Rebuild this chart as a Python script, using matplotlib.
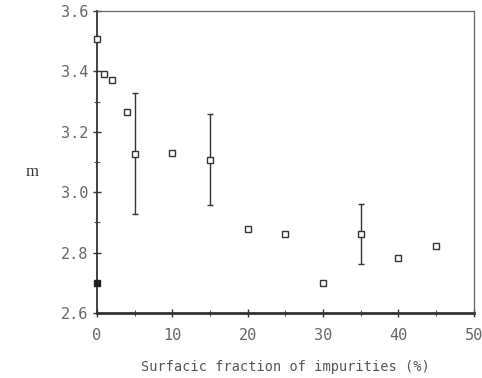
import matplotlib.pyplot as plt
import numpy as np

# open squares: surfacic fraction (%) vs m
frac = [0, 1, 2, 4, 5, 10, 15, 20, 25, 30, 35, 40, 45]
m_vals = [3.507, 3.39, 3.37, 3.266, 3.127, 3.13, 3.107, 2.878, 2.86, 2.70, 2.86, 2.782, 2.822]

# points with error bars
err_x = [5, 15, 35]
err_y = [3.127, 3.107, 2.86]
err_lo = [2.928, 2.957, 2.762]
err_hi = [3.328, 3.26, 2.962]

# filled reference point
ref_x = [0]
ref_y = [2.70]

fig = plt.figure(figsize=(4.82, 3.78), dpi=100)
ax = fig.add_axes([0.201, 0.172, 0.782, 0.799])

mono = 'DejaVu Sans Mono'
grey = '#666666'

lower = np.array(err_y) - np.array(err_lo)
upper = np.array(err_hi) - np.array(err_y)
ax.errorbar(err_x, err_y, yerr=[lower, upper], fmt='none', ecolor='#333333',
            elinewidth=1.0, capsize=2, capthick=1.0, clip_on=False)
ax.plot(frac, m_vals, 's', mfc='white', mec='#333333', mew=1.0, ms=5, clip_on=False, zorder=3)
ax.plot(ref_x, ref_y, 's', color='#222222', ms=5, clip_on=False, zorder=3)

ax.set_xlim(0, 50)
ax.set_ylim(2.6, 3.6)
ax.set_xticks([0, 10, 20, 30, 40, 50])
ax.set_xticks([5, 15, 25, 35, 45], minor=True)
ax.set_yticks([2.6, 2.8, 3.0, 3.2, 3.4, 3.6])
ax.set_yticks([2.7, 2.9, 3.1, 3.3, 3.5], minor=True)
ax.set_yticklabels(['2.6', '2.8', '3.0', '3.2', '3.4', '3.6'])

ax.tick_params(which='major', direction='inout', length=6, width=1.0, color='#333333',
               labelsize=11, labelcolor=grey, pad=3)
ax.tick_params(which='minor', direction='inout', length=4, width=0.8, color='#555555')
ax.tick_params(axis='x', pad=8)
for lab in ax.get_xticklabels() + ax.get_yticklabels():
    lab.set_family(mono)

for side in ['top', 'right']:
    ax.spines[side].set_linewidth(0.9)
    ax.spines[side].set_color('#666666')
ax.spines['left'].set_linewidth(1.3)
ax.spines['left'].set_color('#333333')
ax.spines['bottom'].set_linewidth(2.0)
ax.spines['bottom'].set_color('#333333')

ax.set_xlabel('Surfacic fraction of impurities (%)', family=mono, fontsize=9.8,
              color='#555555', labelpad=12)
fig.text(0.066, 0.545, 'm', family='Liberation Serif', fontsize=12, color='#333333',
         ha='center', va='center')

fig.savefig('out.png', dpi=100)
